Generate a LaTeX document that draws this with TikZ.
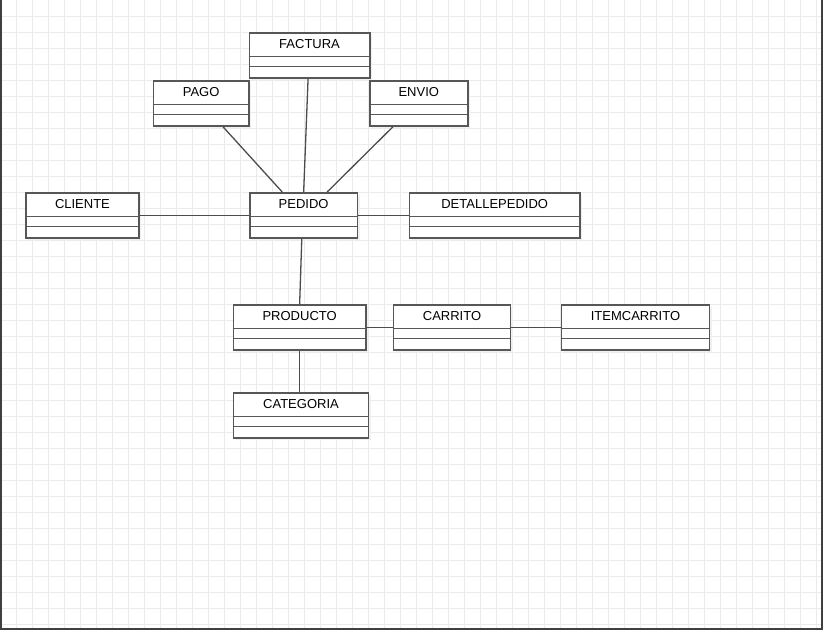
\documentclass[tikz,border=0pt]{standalone}
\usepackage{fontspec}
\setmainfont{Liberation Sans}
\usetikzlibrary{calc}
\begin{document}
\begin{tikzpicture}[x=1pt, y=-1pt,
        gridline/.style={black!8, line width=1},
        frameline/.style={black!75, line width=2.2},
        cls/.style={draw=black!66, fill=white, line width=1.6, inner sep=0, minimum height=45, anchor=north west},
        clsline/.style={black!66, line width=1.6},
        clsshadow/.style={fill=black!6},
        title/.style={font=\fontsize{13}{15}\selectfont, text=black, inner sep=0},
        assoc/.style={black!70, line width=1.3}]
        \useasboundingbox (0, 0) rectangle (823, 630);
        \foreach \i in {0, 1, ..., 50}
        {
            \draw[gridline] (16.7+16*\i, 0)--(16.7+16*\i, 628);
        }
        \foreach \i in {0, 1, ..., 38}
        {
            \draw[gridline] (0, 16+16*\i)--(822, 16+16*\i);
        }
        \draw[frameline] (0.5, 0)--(0.5, 629)--(822, 629)--(822, 0);
        \foreach \n/\x/\y/\w/\t in {factura/248.5/32/120.5/FACTURA, pago/152.7/80/95.3/PAGO, envio/369/80/98/ENVIO, cliente/25/192/113.3/CLIENTE, pedido/249/192/107.7/PEDIDO, detalle/408.5/192/170.8/DETALLEPEDIDO, producto/232.7/304/132.3/PRODUCTO, carrito/392.7/304/117/CARRITO, item/560.7/304/148/ITEMCARRITO, categoria/232.7/392/135/CATEGORIA}
        {
            \fill[clsshadow] (\x+3, \y+3) rectangle ++(\w, 45);
            \node[cls, minimum width=\w] (\n) at (\x, \y) {};
            \draw[clsline] ([yshift=-24.5]\n.north west)--([yshift=-24.5]\n.north east);
            \draw[clsline] ([yshift=-34.5]\n.north west)--([yshift=-34.5]\n.north east);
            \node[title] (\n-title) at ([yshift=-12.3]\n.north) {\t};
        }
        \draw[assoc] ($(pago.south west)!0.724!(pago.south east)$)--($(pedido.north west)!0.304!(pedido.north east)$);
        \draw[assoc] ($(factura.south west)!0.488!(factura.south east)$)--(pedido.north);
        \draw[assoc] ($(envio.south west)!0.242!(envio.south east)$)--($(pedido.north west)!0.715!(pedido.north east)$);
        \draw[assoc] (cliente.east)--(pedido.west);
        \draw[assoc] (pedido.east)--(detalle.west);
        \draw[assoc] ($(pedido.south west)!0.483!(pedido.south east)$)--(producto.north);
        \draw[assoc] (producto.east)--(carrito.west);
        \draw[assoc] (carrito.east)--(item.west);
        \draw[assoc] (producto.south)--(producto.south |- categoria.north);
    \end{tikzpicture}
\end{document}
